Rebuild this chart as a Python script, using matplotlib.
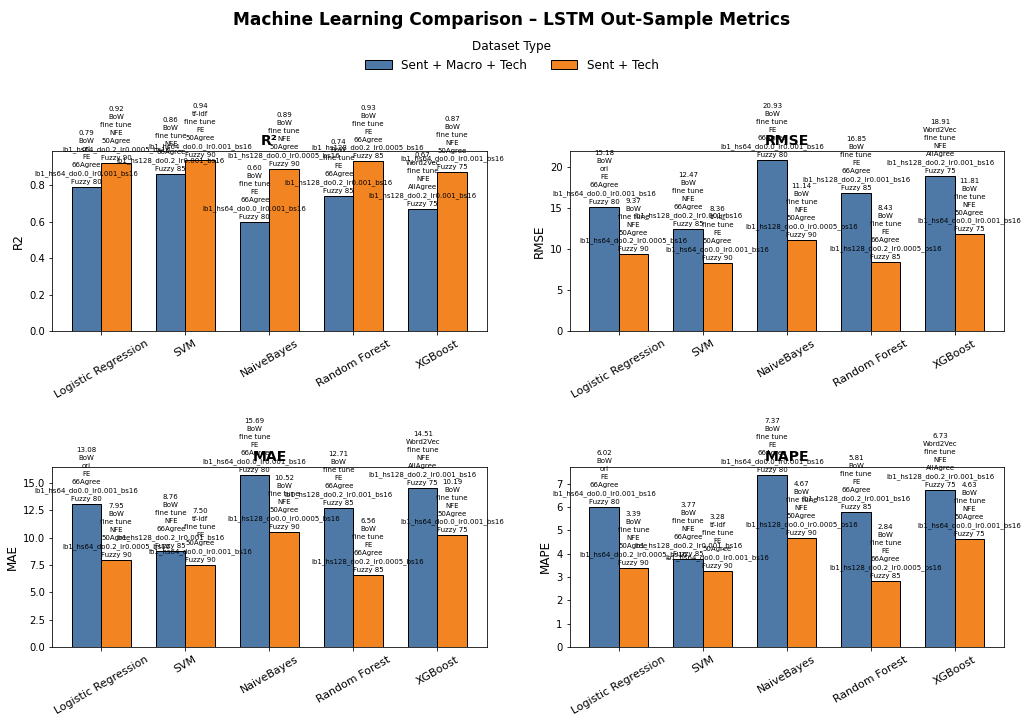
import numpy as np
import matplotlib
matplotlib.use("Agg")
from matplotlib import pyplot as plt
from matplotlib.patches import Patch
from matplotlib.ticker import MultipleLocator

models = ["Logistic Regression", "SVM", "NaiveBayes", "Random Forest", "XGBoost"]
datasets = ["Sent + Macro + Tech", "Sent + Tech"]
colors = ["#4E79A7", "#F28522"]

# best score per model and dataset
r2_smt = [0.79, 0.86, 0.60, 0.74, 0.67]
r2_st = [0.92, 0.94, 0.89, 0.93, 0.87]
rmse_smt = [15.18, 12.47, 20.93, 16.85, 18.91]
rmse_st = [9.37, 8.36, 11.14, 8.43, 11.81]
mae_smt = [13.08, 8.76, 15.69, 12.71, 14.51]
mae_st = [7.95, 7.50, 10.52, 6.56, 10.19]
mape_smt = [6.02, 3.77, 7.37, 5.81, 6.73]
mape_st = [3.39, 3.28, 4.67, 2.84, 4.63]

# configuration of the best run (same for every metric)
feat_smt = ["BoW", "BoW", "BoW", "BoW", "Word2Vec"]
feat_st = ["BoW", "tf-idf", "BoW", "BoW", "BoW"]
mode_smt = ["ori", "fine tune", "fine tune", "fine tune", "fine tune"]
mode_st = ["fine tune", "fine tune", "fine tune", "fine tune", "fine tune"]
fe_smt = ["FE", "NFE", "FE", "FE", "NFE"]
fe_st = ["NFE", "FE", "NFE", "FE", "NFE"]
agree_smt = ["66Agree", "66Agree", "66Agree", "66Agree", "AllAgree"]
agree_st = ["50Agree", "50Agree", "50Agree", "66Agree", "50Agree"]
lstm_smt = ["lb1_hs64_do0.0_lr0.001_bs16", "lb1_hs128_do0.2_lr0.001_bs16",
            "lb1_hs64_do0.0_lr0.001_bs16", "lb1_hs128_do0.2_lr0.001_bs16",
            "lb1_hs128_do0.2_lr0.001_bs16"]
lstm_st = ["lb1_hs64_do0.2_lr0.0005_bs16", "lb1_hs64_do0.0_lr0.001_bs16",
           "lb1_hs128_do0.0_lr0.0005_bs16", "lb1_hs128_do0.2_lr0.0005_bs16",
           "lb1_hs64_do0.0_lr0.001_bs16"]
fuzzy_smt = [80, 85, 80, 85, 75]
fuzzy_st = [90, 90, 90, 85, 75]

metrics = [("R²", "R2", r2_smt, r2_st, 0.2),
           ("RMSE", "RMSE", rmse_smt, rmse_st, 5),
           ("MAE", "MAE", mae_smt, mae_st, 2.5),
           ("MAPE", "MAPE", mape_smt, mape_st, 1)]

configs = [(feat_smt, mode_smt, fe_smt, agree_smt, lstm_smt, fuzzy_smt),
           (feat_st, mode_st, fe_st, agree_st, lstm_st, fuzzy_st)]


def label(val, cfg, i):
    feat, mode, fe, agree, lstm, fuzzy = cfg
    return f"{val:.2f}\n{feat[i]}\n{mode[i]}\n{fe[i]}\n{agree[i]}\n{lstm[i]}\nFuzzy {fuzzy[i]}"


fig, axes = plt.subplots(2, 2, figsize=(1024 / 72, 721 / 72), dpi=72)
plt.subplots_adjust(left=0.051, right=0.9805, top=0.7906, bottom=0.1026,
                    wspace=0.191, hspace=0.75)

x = np.arange(len(models))
width = 0.35

for ax, (title, ylab, smt, st, step) in zip(axes.flat, metrics):
    for j, (vals, off) in enumerate([(smt, -width / 2), (st, width / 2)]):
        bars = ax.bar(x + off, vals, width, color=colors[j], edgecolor="black", linewidth=1)
        for i, b in enumerate(bars):
            ax.annotate(label(vals[i], configs[j], i),
                        (b.get_x() + b.get_width() / 2, b.get_height()),
                        xytext=(0, 2), textcoords="offset points",
                        ha="center", va="bottom", fontsize=7, linespacing=1.4)
    ax.set_title(title, fontsize=14, fontweight="bold")
    ax.set_ylabel(ylab, fontsize=12)
    ax.yaxis.set_major_locator(MultipleLocator(step))
    ax.tick_params(axis="y", labelsize=10)
    ax.set_xticks(x)
    ax.set_xticklabels(models, rotation=30, fontsize=11)

handles = [Patch(facecolor=c, edgecolor="black") for c in colors]
fig.legend(handles, datasets, loc="upper center", bbox_to_anchor=(0.5, 0.96),
           ncol=2, title="Dataset Type", fontsize=12, title_fontsize=12,
           handlelength=2.2, frameon=False)
fig.suptitle("Machine Learning Comparison – LSTM Out-Sample Metrics",
             fontsize=17, fontweight="bold", y=0.985)

plt.savefig("out.png", dpi=72)
